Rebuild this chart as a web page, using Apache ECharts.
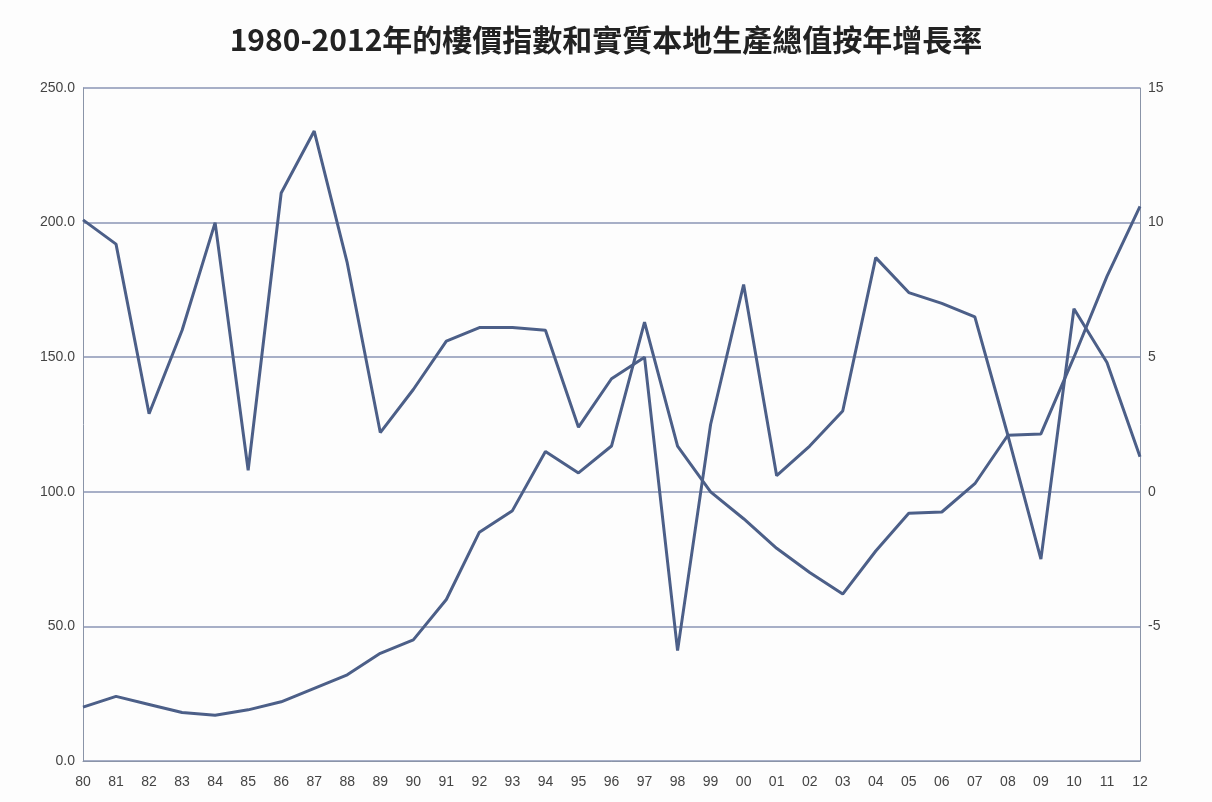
<!DOCTYPE html>
<html><head><meta charset="utf-8">
<script src="https://cdn.jsdelivr.net/npm/echarts@6/dist/echarts.min.js"></script>
<style>html,body{margin:0;background:#fff}#c{width:1212px;height:802px}</style>
</head><body><div id="c"></div>
<script>
const categories=['80','81','82','83','84','85','86','87','88','89','90','91','92','93','94','95','96','97','98','99','00','01','02','03','04','05','06','07','08','09','10','11','12'];
const priceIndex=[20,24,21,18,17,19,22,27,32,40,45,60,85,93,115,107,117,163,117,100,90,79,70,62,78,92,92.5,103,121,121.5,150,180,206];
const gdpGrowth=[10.1,9.2,2.9,6.0,10.0,0.8,11.1,13.4,8.5,2.2,3.8,5.6,6.1,6.1,6.0,2.4,4.2,5.0,-5.9,2.5,7.7,0.6,1.7,3.0,8.7,7.4,7.0,6.5,2.1,-2.5,6.8,4.8,1.3];
const chart=echarts.init(document.getElementById('c'));
const lineColor='#4c5f88';
chart.setOption({
 backgroundColor:'#fdfdfd',
 title:{text:'1980-2012年的樓價指數和實質本地生產總值按年增長率',left:'center',top:20,textStyle:{fontFamily:'Noto Sans CJK TC',fontSize:30,fontWeight:'bold',color:'#222'}},
 grid:{left:83,right:72,top:88,bottom:41},
 xAxis:{type:'category',data:categories,boundaryGap:false,
  axisLine:{lineStyle:{color:'#8a94a8'}},axisTick:{show:false},
  axisLabel:{color:'#444',fontSize:14,margin:14,interval:0}},
 yAxis:[
  {type:'value',min:0,max:250,interval:50,axisLine:{show:true,lineStyle:{color:'#8a94a8'}},
   axisLabel:{formatter:v=>v.toFixed(1),color:'#444',fontSize:14},splitLine:{lineStyle:{color:'#8a94b4',width:1.5}}},
  {type:'value',min:-10,max:15,interval:5,axisLine:{show:true,lineStyle:{color:'#8a94a8'}},
   axisLabel:{formatter:v=>v===-10?'':String(v),color:'#444',fontSize:14},splitLine:{show:false}}
 ],
 series:[
  {type:'line',data:priceIndex,yAxisIndex:0,symbol:'none',lineStyle:{color:lineColor,width:3}},
  {type:'line',data:gdpGrowth,yAxisIndex:1,symbol:'none',lineStyle:{color:lineColor,width:3}}
 ]
});
</script></body></html>
